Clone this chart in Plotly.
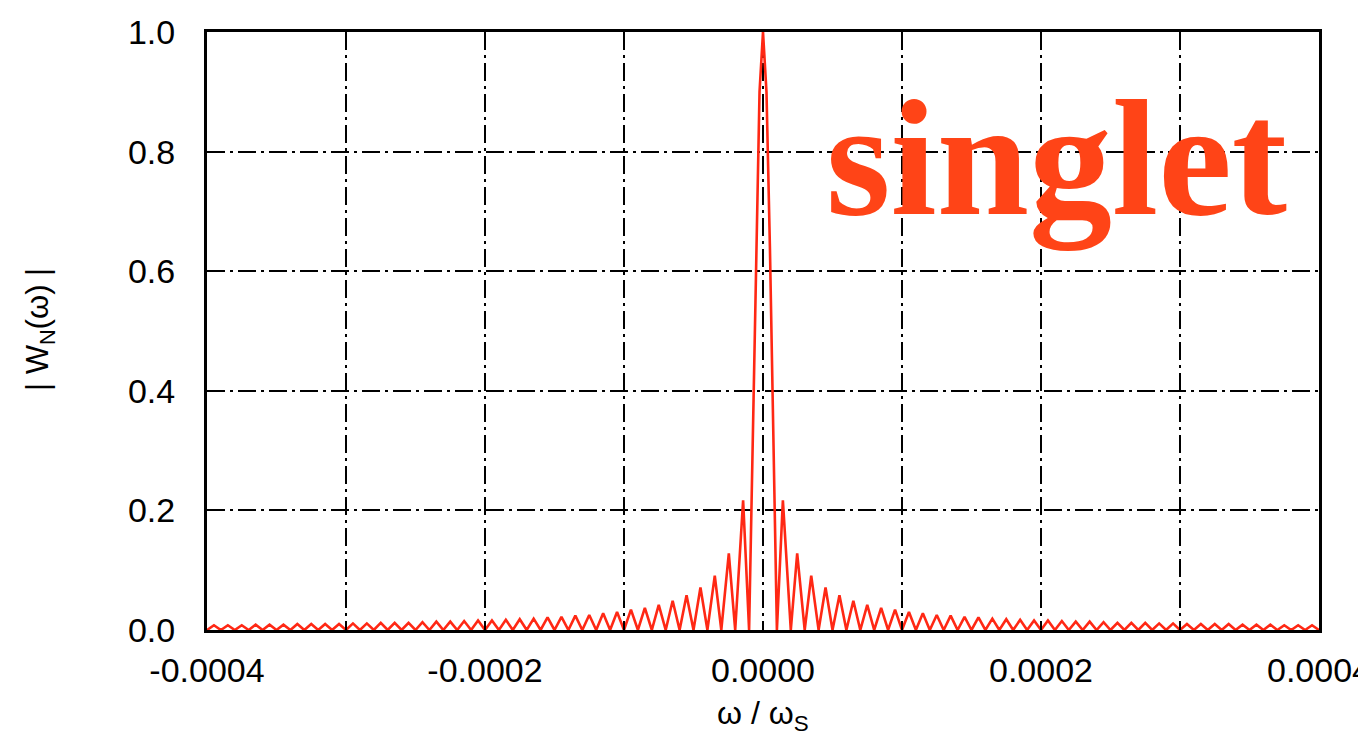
import plotly.graph_objects as go

# ---- data (omega in units of 1e-5 * omega_S) ----
zero_omega_e5 = [-40, -39, -38, -37, -36, -35, -34, -33, -32, -31, -30, -29, -28, -27, -26, -25,
                 -24, -23, -22, -21, -20, -19, -18, -17, -16, -15, -14, -13, -12, -11, -10, -9,
                 -8, -7, -6, -5, -4, -3, -2, -1,
                 1, 2, 3, 4, 5, 6, 7, 8, 9, 10, 11, 12, 13, 14, 15, 16, 17, 18, 19, 20, 21, 22,
                 23, 24, 25, 26, 27, 28, 29, 30, 31, 32, 33, 34, 35, 36, 37, 38, 39, 40]

peak_omega_left_e5 = [-39.5, -38.5, -37.5, -36.5, -35.5, -34.5, -33.5, -32.5, -31.5, -30.5,
                      -29.5, -28.5, -27.5, -26.5, -25.5, -24.5, -23.5, -22.5, -21.5, -20.5,
                      -19.5, -18.5, -17.5, -16.5, -15.5, -14.5, -13.5, -12.5, -11.5, -10.5,
                      -9.5, -8.5, -7.5, -6.5, -5.5, -4.5, -3.47, -2.46, -1.43]
peak_w_left = [0.008, 0.008, 0.008, 0.009, 0.009, 0.009, 0.010, 0.010, 0.010, 0.010,
               0.011, 0.011, 0.012, 0.012, 0.012, 0.013, 0.014, 0.014, 0.015, 0.016,
               0.016, 0.017, 0.018, 0.019, 0.021, 0.022, 0.024, 0.025, 0.028, 0.030,
               0.034, 0.037, 0.042, 0.049, 0.058, 0.071, 0.091, 0.128, 0.217]

peak_omega_right_e5 = [1.43, 2.46, 3.47, 4.5, 5.5, 6.5, 7.5, 8.5, 9.5,
                       10.5, 11.5, 12.5, 13.5, 14.5, 15.5, 16.5, 17.5, 18.5, 19.5,
                       20.5, 21.5, 22.5, 23.5, 24.5, 25.5, 26.5, 27.5, 28.5, 29.5,
                       30.5, 31.5, 32.5, 33.5, 34.5, 35.5, 36.5, 37.5, 38.5, 39.5]
peak_w_right = [0.217, 0.128, 0.091, 0.071, 0.058, 0.049, 0.042, 0.037, 0.034,
                0.030, 0.028, 0.025, 0.024, 0.022, 0.021, 0.019, 0.018, 0.017, 0.016,
                0.016, 0.015, 0.014, 0.014, 0.013, 0.012, 0.012, 0.012, 0.011, 0.011,
                0.010, 0.010, 0.010, 0.010, 0.009, 0.009, 0.009, 0.008, 0.008, 0.008]

main_omega_e5 = [-0.75, -0.5, -0.25, 0.0, 0.25, 0.5, 0.75]
main_w = [0.300, 0.637, 0.900, 1.000, 0.900, 0.637, 0.300]

x_tickvals = [-0.0004, -0.0003, -0.0002, -0.0001, 0.0, 0.0001, 0.0002, 0.0003, 0.0004]
x_ticktext = ["-0.0004", "", "-0.0002", "", "0.0000", "", "0.0002", "", "0.0004"]
y_tickvals = [0.0, 0.2, 0.4, 0.6, 0.8, 1.0]
y_ticktext = ["0.0", "0.2", "0.4", "0.6", "0.8", "1.0"]

# combine into one curve, ordered by omega
pts = [(z, 0.0) for z in zero_omega_e5]
pts += list(zip(peak_omega_left_e5, peak_w_left))
pts += list(zip(peak_omega_right_e5, peak_w_right))
pts += list(zip(main_omega_e5, main_w))
pts.sort(key=lambda p: p[0])
omega = [p[0] * 1e-5 for p in pts]
w = [p[1] for p in pts]

W, H = 1358, 747
L, R, T, B = 207, 39, 32, 117
pw, ph = W - L - R, H - T - B

fig = go.Figure()
fig.add_trace(go.Scatter(x=omega, y=w, mode="lines",
                         line=dict(color="rgb(255,40,20)", width=2.6),
                         hoverinfo="skip", showlegend=False))

grid_dash = "18px,5px,3px,5px"
fig.update_layout(
    width=W, height=H,
    margin=dict(l=L, r=R, t=T, b=B, pad=0, autoexpand=False),
    paper_bgcolor="white", plot_bgcolor="white",
    font=dict(family="Liberation Sans, Arial, sans-serif", color="black"),
    xaxis=dict(range=[-0.0004, 0.0004], tickvals=x_tickvals, ticktext=x_ticktext,
               showgrid=True, gridcolor="black", gridwidth=2, griddash=grid_dash,
               showline=True, linecolor="black", linewidth=3, mirror=True,
               ticks="inside", ticklen=8, tickcolor="black", tickwidth=2,
               tickfont=dict(size=34), ticklabelstandoff=8, automargin=False,
               ticklabeloverflow="allow", zeroline=False),
    yaxis=dict(range=[0, 1.0], tickvals=y_tickvals, ticktext=y_ticktext,
               showgrid=True, gridcolor="black", gridwidth=2, griddash=grid_dash,
               showline=True, linecolor="black", linewidth=3, mirror=True,
               ticks="inside", ticklen=8, tickcolor="black", tickwidth=2,
               tickfont=dict(size=34), ticklabelstandoff=22, automargin=False,
               zeroline=False),
)

fig.add_annotation(xref="paper", yref="paper", x=(40 - L) / pw, y=(H - B - 330) / ph,
                   text="| W<sub>N</sub>(ω) |", textangle=-90, showarrow=False,
                   xanchor="center", yanchor="middle",
                   font=dict(size=31, family="Liberation Sans, Arial, sans-serif", color="black"))
fig.add_annotation(xref="paper", yref="paper", x=(763 - L) / pw, y=(H - B - 716) / ph,
                   text="ω / ω<sub>S</sub>", showarrow=False,
                   xanchor="center", yanchor="middle",
                   font=dict(size=32, family="Liberation Sans, Arial, sans-serif", color="black"))
fig.add_annotation(xref="paper", yref="paper", x=(1056 - L) / pw, y=(H - B - 158) / ph,
                   text="<b>singlet</b>", showarrow=False,
                   xanchor="center", yanchor="middle",
                   font=dict(size=166, family="Liberation Serif, Times New Roman, serif",
                             color="#FF4417"))

fig.write_html("out.html")
